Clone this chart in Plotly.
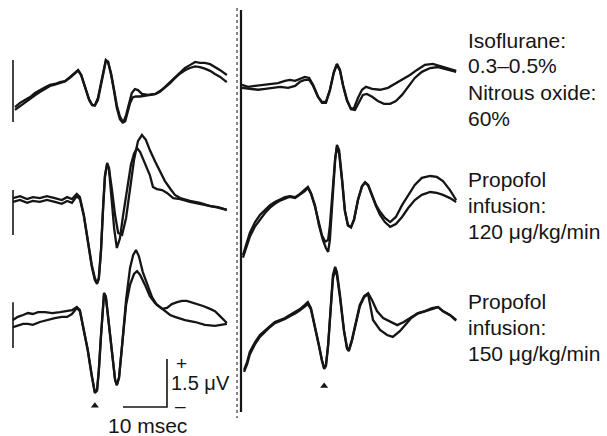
import plotly.graph_objects as go

# ---------------- data: time (ms) and voltage (µV) of each recording ----------------
# Row 1: Isoflurane 0.3-0.5% + N2O 60%
R1L_T_A = [0.45,1.6,2.7,3.9,5.0,6.1,7.3,8.4,9.5,10.7,11.8,13.0,14.1,14.8,15.5,16.4,17.3,18.0,18.6,19.3,20.0,20.7,21.1,21.6,22.3,23.0,23.6,24.3,25.0,25.7,26.4,27.0,27.7,28.4,29.3,30.7,32.3,33.4,34.5,35.7,36.8,38.0,39.1,40.2,41.4,42.5,43.6,44.8,45.9,47.0,48.6]
R1L_V_A = [0,0.13,0.22,0.31,0.44,0.53,0.62,0.69,0.72,0.78,0.81,0.94,1.09,1.16,1.0,0.59,0.22,0.06,0.06,0.28,0.78,1.28,1.47,1.41,1.0,0.47,-0.03,-0.38,-0.5,-0.25,0.16,0.44,0.56,0.53,0.41,0.38,0.41,0.5,0.62,0.78,0.94,1.09,1.22,1.31,1.41,1.38,1.38,1.34,1.25,1.16,1.0]
R1L_T_B = [0.45,1.6,2.7,3.9,5.0,6.1,7.3,8.4,9.5,10.7,11.8,13.0,14.1,14.8,15.5,16.4,17.3,18.0,18.6,19.3,20.0,20.7,21.1,21.6,22.3,23.0,23.6,24.3,25.0,25.5,26.0,26.6,27.2,27.9,28.9,30.7,32.3,33.4,34.5,35.7,36.8,38.0,39.1,40.2,41.4,42.5,43.6,44.8,45.9,47.0,48.6]
R1L_V_B = [-0.09,0.03,0.12,0.25,0.37,0.47,0.58,0.66,0.7,0.76,0.8,0.92,1.06,1.14,1.0,0.6,0.24,0.06,0.04,0.22,0.7,1.22,1.44,1.42,1.05,0.52,0.05,-0.3,-0.47,-0.45,-0.2,0.12,0.3,0.33,0.33,0.36,0.4,0.48,0.6,0.75,0.9,1.05,1.15,1.22,1.27,1.25,1.2,1.13,1.03,0.95,0.78]

R1R_T_A = [0.2,1.6,3.2,5.0,6.6,8.4,10.0,11.1,12.3,13.4,14.5,15.5,16.4,17.5,18.4,19.3,20.2,21.1,21.8,22.5,23.2,24.1,25.0,25.7,26.6,27.5,28.4,29.8,31.6,33.4,35.0,36.6,38.4,40.0,41.8,43.6,45.2,47.0,48.9]
R1R_V_A = [0.06,0,0.03,0.06,0.09,0.12,0.19,0.22,0.19,0.25,0.31,0.28,0.06,-0.31,-0.47,-0.47,-0.09,0.47,0.72,0.53,0.06,-0.41,-0.69,-0.66,-0.34,-0.09,0,-0.06,-0.09,-0.03,0.09,0.22,0.37,0.53,0.69,0.72,0.66,0.59,0.5]
R1R_T_B = [0.2,2.0,3.9,5.5,7.0,8.9,10.7,12.3,13.4,14.5,15.5,16.4,17.5,18.4,19.3,20.2,21.1,21.8,22.5,23.2,24.1,25.0,25.9,26.8,27.7,28.6,29.8,31.1,32.5,33.9,35.2,36.6,38.0,39.5,41.1,43.0,44.8,46.6,48.9]
R1R_V_B = [-0.03,-0.06,-0.09,-0.06,-0.03,0,-0.03,0.03,0.16,0.22,0.22,0.03,-0.31,-0.5,-0.5,-0.12,0.44,0.7,0.5,0.03,-0.44,-0.7,-0.72,-0.47,-0.25,-0.22,-0.31,-0.44,-0.53,-0.53,-0.44,-0.25,0,0.28,0.47,0.59,0.62,0.56,0.47]

# Row 2: Propofol infusion 120 µg/kg/min
R2L_T_A = [0,1.6,3.2,4.5,6.1,7.7,9.5,11.1,12.3,13.4,14.5,15.2,16.1,17.0,17.9,18.6,19.1,19.5,20.0,20.5,20.9,21.4,21.8,22.5,23.2,23.9,24.8,25.7,26.6,27.5,28.4,29.3,30.2,31.1,32.3,33.4,34.5,35.7,36.8,38.0,40.2,42.5,44.8,46.6,48.6]
R2L_V_A = [0.06,0.12,0.03,0.09,0.06,0.12,0.06,0,0.09,0.03,0.19,0.09,-0.47,-1.25,-2.03,-2.44,-2.59,-2.44,-1.56,-0.16,0.78,1.16,1.0,0.31,-0.47,-1.03,-1.09,-0.56,0.31,1.25,1.84,2.03,1.88,1.56,1.2,0.9,0.6,0.36,0.16,0.06,-0.03,-0.09,-0.19,-0.22,-0.31]
R2L_T_B = [0,1.6,3.2,4.5,6.1,7.7,9.5,11.1,12.3,13.4,14.5,15.2,16.1,17.0,17.9,18.6,19.1,19.5,20.0,20.5,20.9,21.4,21.8,22.3,23.0,23.6,24.3,25.0,25.9,26.8,27.5,28.2,28.9,30.0,31.1,31.8,32.7,33.9,35.0,36.4,38.0,40.2,42.5,44.8,46.6,48.6]
R2L_V_B = [-0.06,0.0,-0.09,-0.03,-0.06,0.0,-0.06,-0.12,-0.03,-0.09,0.12,0.03,-0.5,-1.3,-2.08,-2.5,-2.62,-2.47,-1.6,-0.2,0.72,1.12,0.98,0.2,-0.9,-1.5,-1.2,-0.5,0.3,1.1,1.45,1.62,1.5,1.16,0.78,0.41,0.34,0.31,0.22,0.06,0.03,-0.06,-0.12,-0.2,-0.24,-0.31]

R2R_T_A = [0.45,1.1,2.0,3.2,4.3,5.5,6.6,7.7,8.9,10.0,11.1,12.3,13.4,14.5,15.2,15.9,16.8,17.7,18.6,19.3,19.8,20.2,20.7,21.4,21.8,22.3,23.0,23.6,24.3,25.0,25.7,26.6,27.5,28.2,28.9,29.8,30.7,31.6,32.7,33.9,35.2,36.6,38.0,39.5,41.1,43.0,44.5,45.9,47.5,48.9]
R2R_V_A = [-1.72,-1.41,-1.03,-0.69,-0.47,-0.31,-0.16,-0.06,0.03,0.09,0.12,0.09,0.19,0.31,0.41,0.22,-0.16,-0.78,-1.25,-1.5,-1.62,-1.25,-0.16,1.25,1.72,1.56,0.62,-0.31,-0.78,-0.84,-0.62,0,0.44,0.56,0.47,0.16,-0.16,-0.37,-0.56,-0.69,-0.53,-0.16,0.16,0.47,0.69,0.75,0.72,0.59,0.31,0]
R2R_T_B = [0.45,1.1,2.0,3.2,4.3,5.5,6.6,7.7,8.9,10.0,11.1,12.3,13.4,14.5,15.2,15.9,16.8,17.7,18.4,19.1,19.8,20.2,20.7,21.4,21.8,22.3,23.0,23.6,24.3,25.0,25.7,26.6,27.5,28.2,28.9,29.8,30.7,31.6,32.7,33.9,35.2,36.6,38.0,39.5,41.1,43.0,44.5,45.9,47.5,48.9]
R2R_V_B = [-1.8,-1.5,-1.15,-0.82,-0.6,-0.4,-0.24,-0.12,-0.02,0.05,0.1,0.06,0.16,0.28,0.38,0.2,-0.2,-0.7,-1.1,-1.3,-1.25,-0.8,0.1,1.3,1.65,1.45,0.55,-0.35,-0.8,-0.86,-0.6,0.02,0.42,0.54,0.45,0.12,-0.2,-0.47,-0.69,-0.84,-0.75,-0.53,-0.25,0,0.16,0.25,0.22,0.16,0.06,-0.06]

# Row 3: Propofol infusion 150 µg/kg/min
R3L_T_A = [0,1.1,2.3,3.4,4.5,5.7,7.3,8.9,10.7,12.3,13.4,14.5,15.2,16.1,17.0,17.9,18.6,19.1,19.5,20.0,20.5,20.7,21.1,21.8,22.5,23.2,23.6,24.1,24.8,25.7,26.6,27.3,27.95,28.6,29.5,30.5,31.6,32.7,33.9,35.0,36.1,37.3,38.4,39.5,41.4,43.2,44.8,45.9,47.0,48.6]
R3L_V_A = [0.06,0.16,0.22,0.28,0.25,0.31,0.31,0.28,0.31,0.34,0.37,0.47,0.37,-0.25,-0.87,-1.66,-2.19,-2.12,-1.5,-0.41,0.69,0.91,0.78,-0.09,-1.03,-1.81,-1.97,-1.75,-0.72,0.69,1.69,2.09,2.25,2.06,1.56,1.16,0.78,0.53,0.41,0.44,0.56,0.62,0.66,0.66,0.59,0.5,0.41,0.34,0.19,-0.03]
R3L_T_B = [0,1.1,2.3,3.4,4.5,6.1,7.7,9.5,11.1,12.3,13.4,14.5,15.2,16.1,17.0,17.9,18.6,19.1,19.5,20.0,20.5,20.7,21.1,21.8,22.5,23.2,23.6,24.1,24.8,25.7,26.6,27.5,28.2,28.9,30.0,31.1,32.3,33.4,34.5,35.7,36.8,39.1,41.4,43.6,45.9,47.5,48.6]
R3L_V_B = [-0.16,-0.12,-0.06,-0.06,-0.09,0,0.06,0.12,0.16,0.16,0.25,0.44,0.34,-0.28,-0.9,-1.7,-2.22,-2.15,-1.55,-0.45,0.66,0.9,0.8,-0.06,-1.0,-1.8,-1.97,-1.72,-0.72,0.53,1.16,1.5,1.59,1.47,1.16,0.81,0.59,0.47,0.34,0.22,0.16,0.06,0,-0.09,-0.12,-0.09,-0.06]

R3R_T_A = [0.7,1.4,2.0,3.2,4.3,5.5,6.6,7.7,8.9,10.0,11.1,12.3,13.4,14.5,15.2,15.9,16.8,17.7,18.4,18.9,19.3,19.8,20.5,20.9,21.4,21.8,22.5,23.4,24.1,24.5,25.2,26.1,27.0,28.0,28.9,29.8,30.9,32.3,33.9,35.5,37.0,38.6,40.2,41.8,43.4,44.8,45.9,47.5,48.9]
R3R_V_A = [-1.56,-1.31,-1.0,-0.69,-0.47,-0.31,-0.19,-0.06,0,0.06,0.16,0.25,0.34,0.47,0.56,0.37,-0.16,-0.78,-1.25,-1.5,-1.41,-0.78,0.62,1.41,1.66,1.5,0.78,-0.31,-0.87,-0.94,-0.62,-0.06,0.47,0.75,0.84,0.62,0.28,0.06,-0.06,-0.16,-0.06,0.09,0.22,0.28,0.37,0.41,0.28,0.16,0]
R3R_T_B = [0.7,1.4,2.0,3.2,4.3,5.5,6.6,7.7,8.9,10.0,11.1,12.3,13.4,14.5,15.2,15.9,16.8,17.7,18.4,18.9,19.3,19.8,20.5,20.9,21.4,21.8,22.5,23.4,24.1,24.5,25.2,26.1,27.0,28.0,28.9,30.0,31.6,33.2,34.5,36.1,37.3,38.6,40.2,41.8,43.4,44.8,45.9,47.5,48.9]
R3R_V_B = [-1.62,-1.38,-1.08,-0.75,-0.53,-0.36,-0.22,-0.1,-0.03,0.03,0.12,0.2,0.3,0.42,0.5,0.33,-0.2,-0.8,-1.28,-1.53,-1.44,-0.8,0.55,1.3,1.55,1.4,0.7,-0.35,-0.9,-0.97,-0.66,-0.1,0.42,0.72,0.8,0.0,-0.31,-0.47,-0.53,-0.35,-0.15,0.05,0.2,0.27,0.36,0.4,0.27,0.15,-0.02]

# stimulus markers of the left column (µV extent: top, bottom) per row
STIM_TOP = [1.47, 0.31, 0.62]
STIM_BOTTOM = [-0.47, -1.09, -0.81]

# latency arrowheads (row 3): latency (ms), column
ARROW_LATENCY = [18.6, 18.9]
ARROW_COL = [0, 1]

# calibration
SCALE_MS = 10
SCALE_UV = 1.5

CONDITION_LABELS = [
    ["Isoflurane:", "0.3–0.5%", "Nitrous oxide:", "60%"],
    ["Propofol", "infusion:", "120 μg/kg/min"],
    ["Propofol", "infusion:", "150 μg/kg/min"],
]

# ---------------- layout constants ----------------
W, H = 607, 436
PX_PER_MS = 4.4
PX_PER_UV = 32.0
X0_PX = 13.0                       # left column stimulus at this pixel
COL_T0 = [0.0, (241 - 13) / 4.4]   # time offset of each column (ms)
ROW_BASE = [[10.28, 10.91], [7.375, 7.375], [3.5625, 3.625]]  # µV offset of each panel
ARROW_V = [-2.62, -2.06]           # vertical position of arrowheads relative to row baseline

INK = "#151515"
FONT = "Liberation Sans, Arial, Helvetica, sans-serif"
LW = 2.3

def xr(px):
    return (px - X0_PX) / PX_PER_MS

def yr(py):
    return (H - py) / PX_PER_UV

fig = go.Figure()

panels = [
    (0, 0, R1L_T_A, R1L_V_A, R1L_T_B, R1L_V_B),
    (0, 1, R1R_T_A, R1R_V_A, R1R_T_B, R1R_V_B),
    (1, 0, R2L_T_A, R2L_V_A, R2L_T_B, R2L_V_B),
    (1, 1, R2R_T_A, R2R_V_A, R2R_T_B, R2R_V_B),
    (2, 0, R3L_T_A, R3L_V_A, R3L_T_B, R3L_V_B),
    (2, 1, R3R_T_A, R3R_V_A, R3R_T_B, R3R_V_B),
]
for row, col, ta, va, tb, vb in panels:
    for t, v in ((ta, va), (tb, vb)):
        fig.add_trace(go.Scatter(
            x=[ti + COL_T0[col] for ti in t],
            y=[vi + ROW_BASE[row][col] for vi in v],
            mode="lines", line=dict(color=INK, width=LW), hoverinfo="skip"))

# left column stimulus marks
for row in range(3):
    fig.add_trace(go.Scatter(
        x=[COL_T0[0], COL_T0[0]],
        y=[STIM_TOP[row] + ROW_BASE[row][0], STIM_BOTTOM[row] + ROW_BASE[row][0]],
        mode="lines", line=dict(color=INK, width=1.6), hoverinfo="skip"))

# right column stimulus artifact (runs through all rows)
fig.add_trace(go.Scatter(x=[COL_T0[1] - 0.9, COL_T0[1] - 0.9], y=[yr(8), yr(418)],
                         mode="lines", line=dict(color="#444444", width=1.3, dash="dot"), hoverinfo="skip"))
fig.add_trace(go.Scatter(x=[COL_T0[1], COL_T0[1]], y=[yr(10), yr(412)],
                         mode="lines", line=dict(color=INK, width=2.2), hoverinfo="skip"))

# arrowheads
fig.add_trace(go.Scatter(
    x=[lat + COL_T0[c] for lat, c in zip(ARROW_LATENCY, ARROW_COL)],
    y=[ARROW_V[i] + ROW_BASE[2][c] for i, c in enumerate(ARROW_COL)],
    mode="markers", marker=dict(symbol="triangle-up", size=7, color=INK), hoverinfo="skip"))

# calibration bar
cx, cy = xr(167), yr(407)
fig.add_trace(go.Scatter(x=[cx - SCALE_MS, cx, cx], y=[cy, cy, cy + SCALE_UV],
                         mode="lines", line=dict(color=INK, width=1.6), hoverinfo="skip"))

ann = []
fs = 21
def text(s, px, py, xanchor="left", size=fs):
    ann.append(dict(text=s, x=px / W, y=1 - py / H, xref="paper", yref="paper",
                    xanchor=xanchor, yanchor="middle", showarrow=False,
                    font=dict(family=FONT, size=size, color=INK)))

text("+", 174, 363, size=19)
text("–", 173, 405, size=19)
text("1.5 μV", 169, 383, size=20)
text("10 msec", 147, 425, xanchor="center")

label_y = [[40, 66, 92, 118], [179, 205, 231], [301, 327, 353]]
for lines, ys in zip(CONDITION_LABELS, label_y):
    for s, py in zip(lines, ys):
        text(s, 466, py)

fig.update_layout(
    width=W, height=H, margin=dict(l=0, r=0, t=0, b=0),
    paper_bgcolor="white", plot_bgcolor="white", showlegend=False,
    xaxis=dict(visible=False, range=[xr(0), xr(W)], fixedrange=True),
    yaxis=dict(visible=False, range=[yr(H), yr(0)], fixedrange=True),
    annotations=ann,
)

fig.write_html("out.html", config={"displayModeBar": False},
               post_script="document.body.style.margin='0';document.body.style.overflow='hidden';")
